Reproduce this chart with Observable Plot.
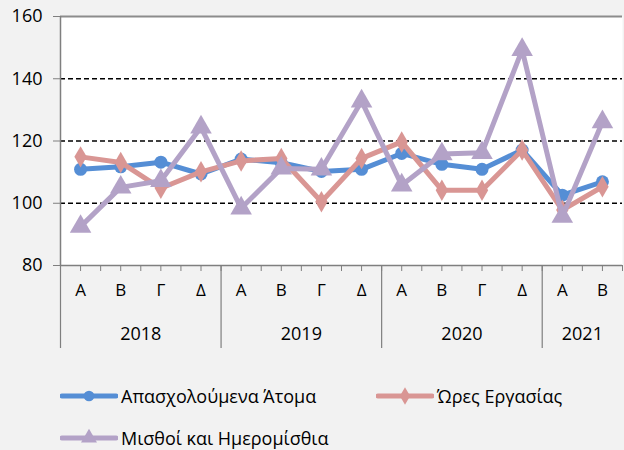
<!DOCTYPE html>
<html>
<head>
<meta charset="utf-8">
<script src="https://cdn.jsdelivr.net/npm/d3@7"></script>
<script src="https://cdn.jsdelivr.net/npm/@observablehq/plot@0.6"></script>
<style>
  html, body { margin: 0; padding: 0; background: #f2f2f2; }
  body { width: 624px; height: 450px; overflow: hidden; font-family: "Open Sans", sans-serif; }
  #legend { position: absolute; left: 0; top: 0; width: 624px; }
  .item { position: absolute; display: flex; align-items: center; font-size: 18px; color: #000; white-space: nowrap; height: 24px; }
  .item svg { margin-right: 3px; }
</style>
</head>
<body>
<div id="chart"></div>
<div id="legend"></div>
<script>
const quarters = ["Α","Β","Γ","Δ","Α","Β","Γ","Δ","Α","Β","Γ","Δ","Α","Β"];
const years    = ["2018","2018","2018","2018","2019","2019","2019","2019","2020","2020","2020","2020","2021","2021"];
const employed = [110.9,111.7,113.2,109.4,114.2,113.0,110.2,110.9,116.0,112.5,110.9,117.1,102.6,106.9];
const hours    = [114.9,113.1,104.8,110.1,113.6,114.4,100.5,114.4,119.7,104.2,104.2,117.1,97.8,105.3];
const wages    = [92.5,105.1,107.2,124.4,98.4,111.2,110.9,132.8,105.8,115.8,116.2,149.3,95.7,126.1];
const seriesNames = ["Απασχολούμενα Άτομα","Ώρες Εργασίας","Μισθοί και Ημερομίσθια"];
const colors = ["#558ed5","#d99694","#b3a2c7"];
const symbols = ["circle","diamond","triangle"];
const yTicks = [80,100,120,140,160];

const idx = quarters.map((_, i) => i);
const seriesValues = [employed, hours, wages];
const rows = seriesValues.flatMap((vals, s) => vals.map((v, i) => ({i, v, s: seriesNames[s]})));

const yearGroups = d3.groups(idx, i => years[i]).map(([y, is]) => ({year: y, center: (is[0] + is[is.length-1]) / 2, start: is[0] - 0.5}));
const separators = yearGroups.map(g => g.start);
const halfTicks = d3.range(-0.5, quarters.length, 0.5);

const yMin = 80, yMax = 160;
const pxPerUnit = (265 - 16) / (yMax - yMin);
const below = px => yMin - px / pxPerUnit;

const marks = [
  Plot.frame({fill: "white", stroke: "none"}),
  Plot.ruleY([100,120,140], {stroke: "#000", strokeWidth: 1.5, strokeDasharray: "5,3"}),
  Plot.ruleY([160], {stroke: "#8c8c8c", strokeWidth: 2}),
  Plot.ruleY([80], {stroke: "#7f7f7f", strokeWidth: 1.5}),
  Plot.ruleX([-0.5], {y1: yMin, y2: yMax, stroke: "#7f7f7f", strokeWidth: 1.5}),
  Plot.ruleX(halfTicks, {y1: yMin, y2: below(6), stroke: "#7f7f7f", strokeWidth: 1}),
  Plot.ruleX(separators, {y1: yMin, y2: below(83), stroke: "#7f7f7f", strokeWidth: 1.2}),
  Plot.axisY({ticks: yTicks, tickSize: 7, tickPadding: 11, fontSize: 18, stroke: "#7f7f7f", tickFormat: d => d, label: null, color: "#000"}),
  Plot.axisX({ticks: idx, tickFormat: i => quarters[i], tickSize: 0, tickPadding: 18, fontSize: 17, label: null}),
  Plot.text(yearGroups, {x: "center", y: below(69), text: "year", fontSize: 18, fill: "#000"})
];
seriesNames.forEach((name, s) => {
  const data = rows.filter(d => d.s === name);
  marks.push(Plot.line(data, {x: "i", y: "v", stroke: colors[s], strokeWidth: 5}));
  marks.push(Plot.dot(data, {x: "i", y: "v", fill: colors[s], symbol: () => symbols[s], r: s === 2 ? 8 : (s === 1 ? 6.5 : 6.5)}));
});

const chart = Plot.plot({
  width: 624,
  height: 365,
  marginLeft: 60,
  marginRight: 2,
  marginTop: 16,
  marginBottom: 100,
  style: {background: "transparent", fontFamily: "'Open Sans', sans-serif", color: "#000"},
  x: {domain: [-0.5, quarters.length - 0.5], axis: null},
  y: {domain: [yMin, yMax], axis: null},
  symbol: {type: "identity"},
  marks
});
document.getElementById("chart").appendChild(chart);

const legendPos = [[60, 396], [376, 396], [60, 438]];
const legend = document.getElementById("legend");
seriesNames.forEach((name, s) => {
  const div = document.createElement("div");
  div.className = "item";
  div.style.left = legendPos[s][0] + "px";
  div.style.top = (legendPos[s][1] - 12) + "px";
  const sym = d3.symbol(s === 0 ? d3.symbolCircle : s === 1 ? d3.symbolDiamond : d3.symbolTriangle, s === 2 ? 110 : 90)();
  div.innerHTML = `<svg width="58" height="24"><line x1="2" x2="56" y1="12" y2="12" stroke="${colors[s]}" stroke-width="5" stroke-linecap="round"/><path d="${sym}" transform="translate(29,12)" fill="${colors[s]}"/></svg><span>${name}</span>`;
  legend.appendChild(div);
});
</script>
</body>
</html>
